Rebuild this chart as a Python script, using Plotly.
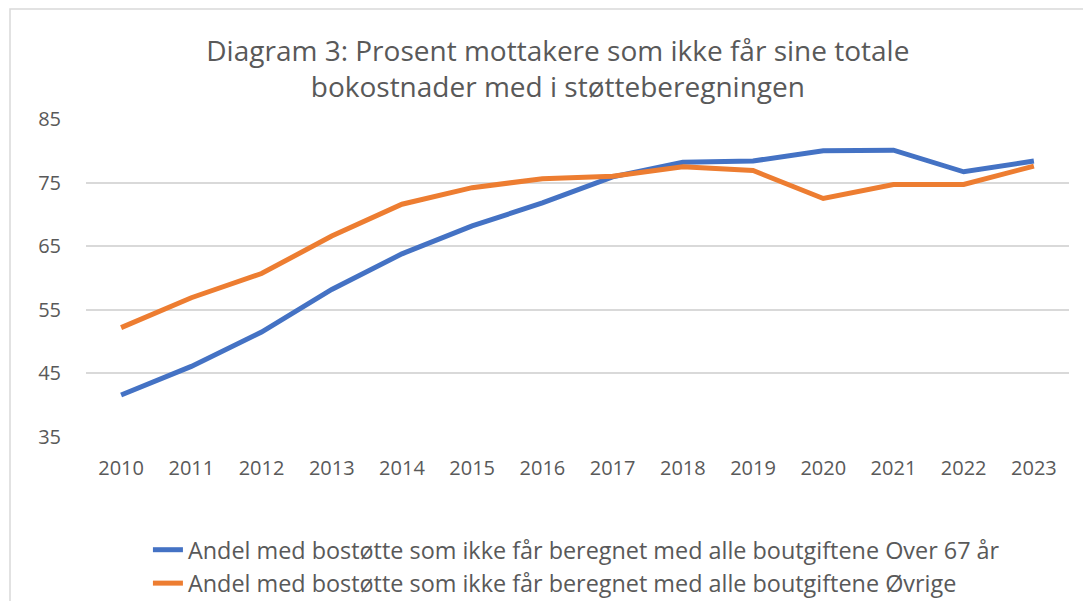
import plotly.graph_objects as go

years = [str(y) for y in range(2010, 2024)]
over_67 = [41.6, 46.1, 51.5, 58.2, 63.8, 68.2, 71.8, 75.9, 78.2, 78.4, 80.0, 80.1, 76.7, 78.4]
ovrige = [52.2, 56.9, 60.7, 66.6, 71.6, 74.2, 75.6, 76.0, 77.5, 76.9, 72.5, 74.7, 74.7, 77.6]
y_ticks = [35, 45, 55, 65, 75, 85]

series = {
    "Andel med bostøtte som ikke får beregnet med alle boutgiftene Over 67 år": (over_67, "#4472C4"),
    "Andel med bostøtte som ikke får beregnet med alle boutgiftene Øvrige": (ovrige, "#ED7D31"),
}

font = "'Open Sans', 'Noto Sans', sans-serif"
grey_text = "#595959"

# page body has an 8px margin, so the figure is 8px smaller than the window
W, H = 1083, 593

fig = go.Figure()
for name, (values, color) in series.items():
    fig.add_trace(go.Scatter(
        x=years, y=values, name=name, mode="lines",
        line=dict(color=color, width=5),
        legendgroup=name,
    ))

fig.update_layout(
    width=W, height=H,
    margin=dict(l=78, r=22, t=111, b=164, autoexpand=False),
    paper_bgcolor="white", plot_bgcolor="white",
    font=dict(family=font, color=grey_text, size=20),
    title=dict(
        text="Diagram 3: Prosent mottakere som ikke får sine totale<br>bokostnader med i støtteberegningen",
        x=0.480, xref="paper", y=1 - 53 / H, yref="container", yanchor="middle",
        font=dict(size=28, color=grey_text),
    ),
    xaxis=dict(
        type="category", range=[-0.5, 13.5], showgrid=False, automargin=False,
        showline=False, ticks="", tickfont=dict(size=20), ticklabelstandoff=17,
    ),
    yaxis=dict(
        range=[35, 85], tickvals=y_ticks, showgrid=True, gridcolor="#D9D9D9",
        gridwidth=1.5, zeroline=False, showline=False, ticks="", automargin=False,
        tickfont=dict(size=20), ticklabelstandoff=24,
    ),
    legend=dict(
        x=0.063, xanchor="left", y=1 - 520 / H, yref="container", yanchor="top",
        font=dict(size=23.4, color=grey_text),
        traceorder="grouped", tracegroupgap=0,
        bgcolor="rgba(0,0,0,0)",
    ),
    showlegend=True,
)

# chart area border (the outer frame of the original)
fig.add_shape(
    type="rect", xref="paper", yref="paper",
    x0=-76 / 983, x1=1.2, y0=-1.0, y1=1 + 110 / 318,
    line=dict(color="#D9D9D9", width=1.5), fillcolor="rgba(0,0,0,0)",
    layer="below",
)

fig.write_html("out.html")
